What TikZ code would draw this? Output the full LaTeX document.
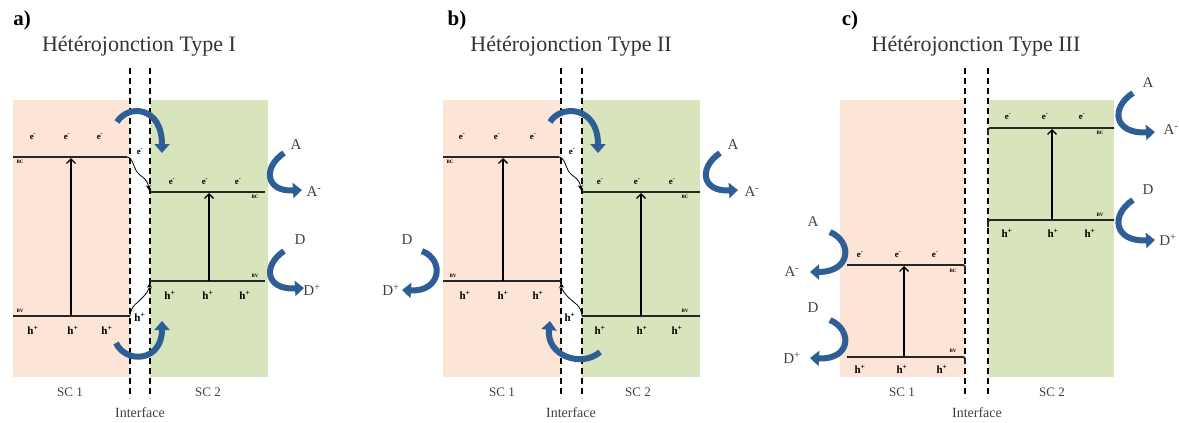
\documentclass[tikz,border=0pt]{standalone}
\usepackage{fontspec}
\setmainfont{Liberation Serif}
\usetikzlibrary{arrows.meta}
\definecolor{scpink}{HTML}{FCE4D6}
\definecolor{scgreen}{HTML}{D8E4BC}
\definecolor{bluearr}{HTML}{2E5E96}
\definecolor{txtgray}{HTML}{404040}
\tikzset{
 band/.style={line width=1.7pt, draw=black!85},
 iface/.style={line width=1.9pt, dash pattern=on 6pt off 4pt},
 excite/.style={line width=1.4pt, -{Straight Barb[length=4.5pt,width=9pt,line width=1.3pt]}},
 transfer/.style={line width=0.8pt, -{Stealth[length=5pt,width=5pt]}},
 redox/.style={line width=6pt, draw=bluearr, -{Triangle[length=9pt,width=15pt]}},
 ttl/.style={font=\fontsize{22}{22}\selectfont, text=black!80},
 panel/.style={font=\bfseries\fontsize{21}{21}\selectfont},
 elec/.style={font=\bfseries\fontsize{9}{9}\selectfont, inner sep=0pt},
 hole/.style={font=\bfseries\fontsize{11}{11}\selectfont, inner sep=0pt},
 tinylab/.style={font=\bfseries\fontsize{5}{5}\selectfont, inner sep=0pt},
 species/.style={font=\fontsize{15}{15}\selectfont, text=txtgray, inner sep=0pt},
 sclab/.style={font=\fontsize{13}{13}\selectfont, text=txtgray, inner sep=0pt},
 iflab/.style={font=\fontsize{14}{14}\selectfont, text=txtgray, inner sep=0pt},
}
\newcommand{\el}{e\textsuperscript{-}}
\newcommand{\ho}{h\textsuperscript{+}}
\begin{document}
\begin{tikzpicture}[x=1pt,y=-1pt]
\useasboundingbox (0,0) rectangle (1179,423);

%%%%%%%%%%%%%%%% Panel a
\fill[scpink] (13,100) rectangle (130,377);
\fill[scgreen] (150,100) rectangle (268,377);
\draw[iface] (130,68) -- (130,398);
\draw[iface] (150,68) -- (150,398);
\node[panel] (alab) at (22,20) {a)};
\node[ttl] (atitle) at (139,46) {Hétérojonction Type I};
% bands
\coordinate (aCB1l) at (13,157); \coordinate (aCB1r) at (127,157);
\coordinate (aCB2l) at (150,192); \coordinate (aCB2r) at (265,192);
\coordinate (aVB1l) at (13,316); \coordinate (aVB1r) at (130,316);
\coordinate (aVB2l) at (150,281); \coordinate (aVB2r) at (265,281);
\draw[band] (aCB1l) -- (aCB1r);
\draw[band] (aCB2l) -- (aCB2r);
\draw[band] (aVB1l) -- (aVB1r);
\draw[band] (aVB2l) -- (aVB2r);
\draw[transfer] (aCB1r) .. controls (134,158) and (133,170) .. (140,175) .. controls (147,180) and (148,183) .. (149,190);
\draw[transfer] (aVB1r) .. controls (131,305) and (138,303) .. (142,298) .. controls (147,293) and (149,290) .. (150,283);
\coordinate (aX1b) at (71,316); \coordinate (aX1t) at (71,158);
\coordinate (aX2b) at (209,281); \coordinate (aX2t) at (209,193);
\draw[excite] (aX1b) -- (aX1t);
\draw[excite] (aX2b) -- (aX2t);
% carriers
\foreach \x in {33,67,100} \node[elec] at (\x,137) {\el};
\foreach \x in {172,205,238} \node[elec] at (\x,182) {\el};
\node[elec] (aei) at (140,152) {\el};
\foreach \x in {33,73,107} \node[hole] at (\x,330) {\ho};
\foreach \x in {170,208,245} \node[hole] at (\x,295) {\ho};
\node[hole] (ahi) at (140,317) {\ho};
\node[tinylab] (abc1) at (20,162) {BC};
\node[tinylab] (abc2) at (255,197) {BC};
\node[tinylab] (abv1) at (20,311) {BV};
\node[tinylab] (abv2) at (255,276) {BV};
% blue arrows
\draw[redox] (117,122) .. controls (128,104) and (162,106) .. (162,153);
\draw[redox] (116,343) .. controls (126,364) and (162,362) .. (162,321);
\draw[redox] (284,153) .. controls (262,168) and (266,192) .. (302,190);
\draw[redox] (284,251) .. controls (262,266) and (266,290) .. (304,288);
\node[species] (aA) at (296,145) {A};
\node[species] (aAm) at (314,192) {A\textsuperscript{-}};
\node[species] (aD) at (300,240) {D};
\node[species] (aDp) at (312,290) {D\textsuperscript{+}};
\node[sclab] (asc1) at (70,392) {SC 1};
\node[sclab] (asc2) at (208,392) {SC 2};
\node[iflab] (aif) at (140,413) {Interface};

%%%%%%%%%%%%%%%% Panel b
\fill[scpink] (443,100) rectangle (561,377);
\fill[scgreen] (582,100) rectangle (700,377);
\draw[iface] (561,68) -- (561,398);
\draw[iface] (582,68) -- (582,398);
\node[panel] (blab) at (457,20) {b)};
\node[ttl] (btitle) at (571,46) {Hétérojonction Type II};
\coordinate (bCB1l) at (443,157); \coordinate (bCB1r) at (559,157);
\coordinate (bCB2l) at (582,192); \coordinate (bCB2r) at (700,192);
\coordinate (bVB1l) at (443,281); \coordinate (bVB1r) at (561,281);
\coordinate (bVB2l) at (582,316); \coordinate (bVB2r) at (700,316);
\draw[band] (bCB1l) -- (bCB1r);
\draw[band] (bCB2l) -- (bCB2r);
\draw[band] (bVB1l) -- (bVB1r);
\draw[band] (bVB2l) -- (bVB2r);
\draw[transfer] (bCB1r) .. controls (566,158) and (565,170) .. (572,175) .. controls (579,180) and (580,183) .. (581,190);
\draw[transfer] (bVB2l) .. controls (581,305) and (574,303) .. (569,298) .. controls (564,293) and (562,290) .. (561,283);
\coordinate (bX1b) at (503,281); \coordinate (bX1t) at (503,158);
\coordinate (bX2b) at (641,316); \coordinate (bX2t) at (641,193);
\draw[excite] (bX1b) -- (bX1t);
\draw[excite] (bX2b) -- (bX2t);
\foreach \x in {462,497,533} \node[elec] at (\x,137) {\el};
\foreach \x in {600,637,672} \node[elec] at (\x,182) {\el};
\node[elec] (bei) at (572,152) {\el};
\foreach \x in {465,503,538} \node[hole] at (\x,295) {\ho};
\foreach \x in {600,642,677} \node[hole] at (\x,330) {\ho};
\node[hole] (bhi) at (570,317) {\ho};
\node[tinylab] (bbc1) at (450,162) {BC};
\node[tinylab] (bbc2) at (685,197) {BC};
\node[tinylab] (bbv1) at (453,276) {BV};
\node[tinylab] (bbv2) at (685,311) {BV};
\draw[redox] (550,122) .. controls (561,104) and (598,106) .. (598,153);
\draw[redox] (600,352) .. controls (582,368) and (546,356) .. (550,321);
\draw[redox] (720,153) .. controls (698,168) and (702,192) .. (738,190);
\draw[redox] (422,251) .. controls (445,260) and (441,292) .. (402,290);
\node[species] (bA) at (733,145) {A};
\node[species] (bAm) at (752,192) {A\textsuperscript{-}};
\node[species] (bD) at (407,240) {D};
\node[species] (bDp) at (391,290) {D\textsuperscript{+}};
\node[sclab] (bsc1) at (502,392) {SC 1};
\node[sclab] (bsc2) at (638,392) {SC 2};
\node[iflab] (bif) at (571,413) {Interface};

%%%%%%%%%%%%%%%% Panel c
\fill[scpink] (840,100) rectangle (965,377);
\fill[scgreen] (988,100) rectangle (1114,377);
\draw[iface] (965,68) -- (965,398);
\draw[iface] (988,68) -- (988,398);
\node[panel] (clab) at (850,20) {c)};
\node[ttl] (ctitle) at (976,46) {Hétérojonction Type III};
\draw[band, rounded corners=2pt] (988,135) -- (988,128) -- (1114,128);
\draw[band, rounded corners=2pt] (988,227) -- (988,220) -- (1114,220);
\draw[band, rounded corners=2pt] (847,265) -- (965,265) -- (965,272);
\draw[band, rounded corners=2pt] (847,357) -- (965,357) -- (965,364);
\coordinate (cX1b) at (904,357); \coordinate (cX1t) at (904,266);
\coordinate (cX2b) at (1052,220); \coordinate (cX2t) at (1052,129);
\draw[excite] (cX1b) -- (cX1t);
\draw[excite] (cX2b) -- (cX2t);
\foreach \x in {1008,1045,1082} \node[elec] at (\x,117) {\el};
\foreach \x in {1007,1053,1090} \node[hole] at (\x,233) {\ho};
\foreach \x in {860,898,935} \node[elec] at (\x,255) {\el};
\foreach \x in {860,902,942} \node[hole] at (\x,369) {\ho};
\node[tinylab] (cbc2) at (1100,133) {BC};
\node[tinylab] (cbv2) at (1100,215) {BV};
\node[tinylab] (cbc1) at (953,271) {BC};
\node[tinylab] (cbv1) at (953,351) {BV};
\draw[redox] (1133,93) .. controls (1110,108) and (1114,134) .. (1155,132);
\draw[redox] (1133,200) .. controls (1110,215) and (1114,242) .. (1155,240);
\draw[redox] (830,232) .. controls (853,242) and (851,272) .. (810,272);
\draw[redox] (830,320) .. controls (853,330) and (851,360) .. (810,358);
\node[species] (cA1) at (1148,83) {A};
\node[species] (cAm1) at (1171,130) {A\textsuperscript{-}};
\node[species] (cD1) at (1148,190) {D};
\node[species] (cDp1) at (1168,240) {D\textsuperscript{+}};
\node[species] (cA2) at (813,222) {A};
\node[species] (cAm2) at (792,272) {A\textsuperscript{-}};
\node[species] (cD2) at (813,308) {D};
\node[species] (cDp2) at (792,358) {D\textsuperscript{+}};
\node[sclab] (csc1) at (902,392) {SC 1};
\node[sclab] (csc2) at (1052,392) {SC 2};
\node[iflab] (cif) at (977,413) {Interface};
\end{tikzpicture}
\end{document}
